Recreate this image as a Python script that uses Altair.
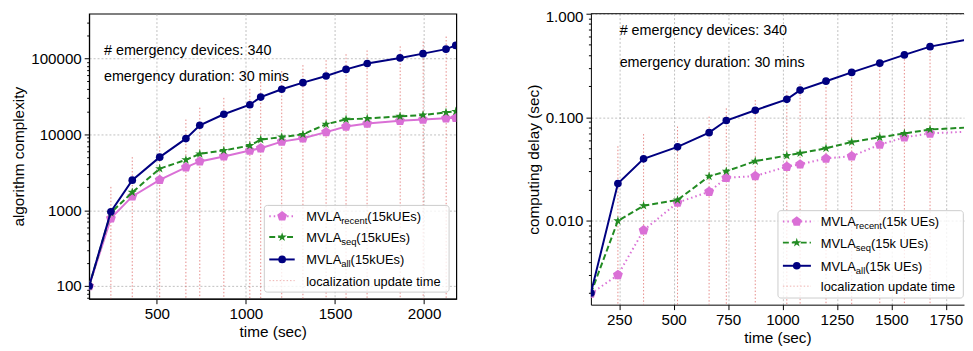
import altair as alt
import pandas as pd

FONT = "Liberation Sans"

# ---------------- data: left panel (algorithm complexity) ----------------
time_left = [120, 242, 362, 516, 663, 741, 876, 1022, 1083, 1201, 1320, 1450, 1562, 1681, 1865, 1994, 2123, 2178]
all_left = [100, 953, 2490, 5010, 8790, 13200, 18400, 24600, 31000, 39400, 48100, 58800, 71900, 86100, 101800, 116000, 133000, 149000]
seq_left = [100, 925, 1720, 3530, 4620, 5530, 6130, 7120, 8530, 9220, 10000, 13600, 15800, 16200, 17300, 18000, 19500, 20100]
recent_left = [100, 780, 1520, 2510, 3680, 4400, 5120, 6130, 6570, 8030, 8870, 10700, 12700, 13900, 15100, 15700, 16300, 16500]
update_time_left = [242, 362, 516, 663, 741, 876, 1022, 1083, 1201, 1320, 1450, 1562, 1680, 1866, 1995, 2124]
update_top_left = [2030, 5010, 9420, 15700, 22500, 30300, 39800, 49100, 68300, 81800, 95000, 114000, 128000, 145000, 168000, 195000]

# ---------------- data: right panel (computing delay) ----------------
time_right = [120, 244, 362, 518, 663, 742, 875, 1020, 1081, 1200, 1318, 1447, 1560, 1678, 1866]
all_right = [0.00201, 0.0229, 0.0397, 0.0518, 0.071, 0.093, 0.117, 0.149, 0.183, 0.223, 0.271, 0.333, 0.40, 0.481, 0.57]
seq_right = [0.0020, 0.0100, 0.0140, 0.0159, 0.0269, 0.0301, 0.0377, 0.0427, 0.045, 0.0502, 0.0577, 0.064, 0.0698, 0.0762, 0.080]
recent_right = [0.00198, 0.0030, 0.0081, 0.0150, 0.0191, 0.026, 0.0271, 0.0333, 0.0351, 0.040, 0.0421, 0.0544, 0.064, 0.0698, 0.073]
update_time_right = [244, 362, 518, 663, 742, 875, 1020, 1081, 1200, 1318, 1447, 1560, 1678]
update_top_right = [0.0525, 0.0688, 0.0814, 0.1015, 0.122, 0.1466, 0.178, 0.210, 0.229, 0.261, 0.312, 0.364, 0.424]

annot_lines = ["# emergency devices: 340", "emergency duration: 30 mins"]
annot_left_t = [203, 203]
annot_left_v = [127000, 57000]
annot_right_t = [252, 252]
annot_right_v = [0.673, 0.335]

series_names = ["recent", "seq", "all"]
legend_suffix_left = "(15kUEs)"
legend_suffix_right = " (15k UEs)"
legend_update = "localization update time"

# ---------------- styles ----------------
PENT = "M0,-1L0.951,-0.309L0.588,0.809L-0.588,0.809L-0.951,-0.309Z"
STAR = ("M0,-1L0.224,-0.309L0.951,-0.309L0.363,0.118L0.588,0.809L0,0.382"
        "L-0.588,0.809L-0.363,0.118L-0.951,-0.309L-0.224,-0.309Z")
COL = {"recent": "#DA70D6", "seq": "#228B22", "all": "#000080"}
SHAPE = {"recent": PENT, "seq": STAR, "all": "circle"}
SIZE = {"recent": 110, "seq": 95, "all": 60}
RED = "#d9534f"

DEC = "abs(log(datum.value)/LN10 - round(log(datum.value)/LN10)) < 0.001"

ARIAL = {'M': 833, 'V': 667, 'L': 556, 'A': 667, 'r': 333, 'e': 556, 'c': 500, 'n': 556,
         't': 278, 's': 500, 'q': 556, 'a': 556, 'l': 222, ' ': 278}


def tw(s, size):
    return sum(ARIAL[c] for c in s) * size / 1000.0


dummy = pd.DataFrame({"a": [0]})


def minor_ticks(lo, hi):
    out = []
    d = 1e-4
    while d < hi * 10:
        for k in range(1, 10):
            v = round(k * d, 10)
            if lo <= v <= hi:
                out.append(v)
        d *= 10
    return out


def make_panel(times, data, upd_t, upd_top, ann_t, ann_v, xdom, xticks, ydom, ytitle, yfmt,
               width, height, legend, suffix, recent_dash, flush):
    xenc = alt.X("t:Q", scale=alt.Scale(domain=xdom, nice=False, zero=False),
                 axis=alt.Axis(values=xticks, title="time (sec)", format="d"))
    yaxis = alt.Axis(
        title=ytitle, values=minor_ticks(ydom[0], ydom[1]),
        labelExpr=f"({DEC}) ? format(datum.value, '{yfmt}') : ''",
        tickSize={"condition": {"test": DEC, "value": 5}, "value": 2.5},
        gridOpacity={"condition": {"test": DEC, "value": 1}, "value": 0},
        labelOverlap=False, labelFlush=flush, labelFlushOffset=4 if flush else 0)
    yscale = alt.Scale(type="log", domain=ydom, nice=False)
    yenc = alt.Y("v:Q", scale=yscale, axis=yaxis)

    layers = []
    udf = pd.DataFrame({"t": upd_t, "v": upd_top})
    layers.append(alt.Chart(udf).mark_rule(color=RED, strokeWidth=0.9, strokeDash=[1.5, 2],
                                           opacity=0.75, clip=True)
                  .encode(x=xenc, y=yenc, y2=alt.datum(ydom[0])))
    for name in series_names:
        df = pd.DataFrame({"t": times, "v": data[name]})
        base = alt.Chart(df).encode(x=xenc, y=yenc)
        kw = {}
        if name == "seq":
            kw["strokeDash"] = [6, 3]
        if name == "recent" and recent_dash:
            kw["strokeDash"] = recent_dash
        layers.append(base.mark_line(color=COL[name], strokeWidth=2, clip=True, **kw))
        layers.append(base.mark_point(shape=SHAPE[name], size=SIZE[name], filled=True,
                                      color=COL[name], opacity=1, clip=True))
    adf = pd.DataFrame({"t": ann_t, "v": ann_v, "label": annot_lines})
    layers.append(alt.Chart(adf).mark_text(align="left", baseline="middle", fontSize=14.5,
                                           font=FONT, color="black")
                  .encode(x=xenc, y=yenc, text="label:N"))

    bx0, bx1, by0, by1, rows, hx0, hx1, mx, tx = legend
    layers.append(alt.Chart(dummy).mark_rect(fill="white", fillOpacity=0.8, stroke="#cccccc",
                                             strokeWidth=1, cornerRadius=3)
                  .encode(x=alt.value(bx0), x2=alt.value(bx1), y=alt.value(by0), y2=alt.value(by1)))
    for i, name in enumerate(series_names):
        ry = rows[i]
        kw = {}
        if name == "seq":
            kw["strokeDash"] = [6, 3]
        if name == "recent":
            kw["strokeDash"] = [1.5, 3]
        layers.append(alt.Chart(dummy).mark_rule(color=COL[name], strokeWidth=2, **kw)
                      .encode(x=alt.value(hx0), x2=alt.value(hx1), y=alt.value(ry)))
        layers.append(alt.Chart(dummy).mark_point(shape=SHAPE[name], size=SIZE[name], filled=True,
                                                  color=COL[name], opacity=1)
                      .encode(x=alt.value(mx), y=alt.value(ry)))
        w_main = tw("MVLA", 13)
        w_sub = tw(name, 9.5)
        layers.append(alt.Chart(dummy).mark_text(text="MVLA", align="left", baseline="alphabetic",
                                                 fontSize=13, font=FONT, color="black")
                      .encode(x=alt.value(tx), y=alt.value(ry + 5)))
        layers.append(alt.Chart(dummy).mark_text(text=name, align="left", baseline="alphabetic",
                                                 fontSize=9.5, font=FONT, color="black")
                      .encode(x=alt.value(tx + w_main), y=alt.value(ry + 8)))
        layers.append(alt.Chart(dummy).mark_text(text=suffix, align="left", baseline="alphabetic",
                                                 fontSize=13, font=FONT, color="black")
                      .encode(x=alt.value(tx + w_main + w_sub), y=alt.value(ry + 5)))
    ry = rows[3]
    layers.append(alt.Chart(dummy).mark_rule(color=RED, strokeWidth=0.9, strokeDash=[1.5, 2], opacity=0.5)
                  .encode(x=alt.value(hx0), x2=alt.value(hx1), y=alt.value(ry)))
    layers.append(alt.Chart(dummy).mark_text(text=legend_update, align="left", baseline="alphabetic",
                                             fontSize=13, font=FONT, color="black")
                  .encode(x=alt.value(tx), y=alt.value(ry + 5)))
    return layers


left_layers = make_panel(
    time_left, {"recent": recent_left, "seq": seq_left, "all": all_left},
    update_time_left, update_top_left, annot_left_t, annot_left_v,
    [120, 2181], [500, 1000, 1500, 2000], [68, 390000], "algorithm complexity", "d",
    371, 288,
    (177, 363.7, 193.7, 281.3, [204.7, 225.7, 248.3, 269.7], 182, 207.7, 195, 219.3),
    legend_suffix_left, None, False)
left = alt.layer(*left_layers).properties(width=371, height=288)

right_layers = make_panel(
    time_right, {"recent": recent_right, "seq": seq_right, "all": all_right},
    update_time_right, update_top_right, annot_right_t, annot_right_v,
    [120, 1834], [250, 500, 750, 1000, 1250, 1500, 1750], [0.00155, 1.0], "computing delay (sec)", ".3f",
    377, 294,
    (189, 376.3, 199, 287.3, [210, 231.3, 254.7, 275.3], 194, 222.3, 208, 232.3),
    legend_suffix_right, [1.5, 3], True)
right_layers.append(alt.Chart(dummy).mark_rule(color="black", strokeWidth=1)
                    .encode(x=alt.value(0), x2=alt.value(377), y=alt.value(0)))
right = alt.layer(*right_layers).properties(width=377, height=294,
                                            view=alt.ViewBackground(strokeOpacity=0))

chart = alt.hconcat(left, right, spacing=136, bounds="flush").properties(
    padding={"left": 3, "top": 0, "right": 0, "bottom": 0}
).configure_axis(
    labelFont=FONT, titleFont=FONT, labelFontSize=15.3, titleFontSize=15.5, titleFontWeight="normal",
    labelColor="black", titleColor="black", tickColor="black", domainColor="black",
    grid=True, gridColor="#b0b0b0", gridDash=[2, 2], gridWidth=0.8, labelPadding=3, titlePadding=4,
).configure_axisX(tickSize=5, titlePadding=3).configure_view(stroke="black", strokeWidth=1.2)

chart.save("out.html", embed_options={"renderer": "svg", "actions": False})
